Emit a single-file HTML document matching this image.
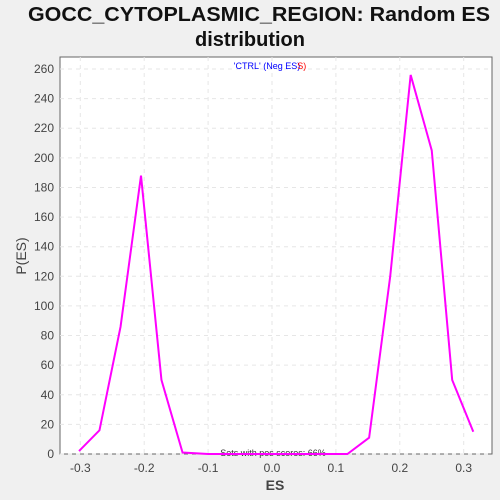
<!DOCTYPE html>
<html><head><meta charset="utf-8"><style>
body{margin:0;background:#f0f0f0;width:500px;height:500px;overflow:hidden;font-family:"Liberation Sans",sans-serif}
</style></head><body>
<svg width="500" height="500" style="display:block" xmlns="http://www.w3.org/2000/svg">
<text x="259" y="21" text-anchor="middle" font-size="20" font-weight="bold" fill="#111" textLength="462" lengthAdjust="spacingAndGlyphs">GOCC_CYTOPLASMIC_REGION: Random ES</text>
<text x="250" y="46" text-anchor="middle" font-size="20" font-weight="bold" fill="#111">distribution</text>
<rect x="60" y="57" width="432" height="397" fill="#fff" stroke="#666"/>
<g id="grid"></g><g id="ticks"></g>
<text x="270" y="69" text-anchor="middle" font-size="9"><tspan fill="#00f">'CTRL' (Neg ES)</tspan><tspan fill="#f00" dx="-3">S)</tspan></text>
<text x="273" y="456" text-anchor="middle" font-size="9" fill="#333">Sets with pos scores: 66%</text>
<polyline id="line" fill="none" stroke="#ff00ff" stroke-width="2"/>
<text x="275" y="490" text-anchor="middle" font-size="14" font-weight="bold" fill="#444">ES</text>
<text transform="translate(26,256) rotate(-90)" text-anchor="middle" font-size="14" fill="#444">P(ES)</text>
</svg>
<script>
const esValues=[-0.302,-0.27,-0.237,-0.205,-0.173,-0.14,-0.1,-0.05,0,0.05,0.118,0.152,0.185,0.217,0.25,0.282,0.315];
const densities=[2,16,86,188,50,1,0,0,0,0,0,11,120,256,205,50,15];
const xTicks=[-0.3,-0.2,-0.1,0.0,0.1,0.2,0.3];
const yTicks=[0,20,40,60,80,100,120,140,160,180,200,220,240,260];
const NS="http://www.w3.org/2000/svg";
const xs=v=>272+v*639;
const ys=v=>454-v*(385/260);
const grid=document.getElementById('grid'),ticks=document.getElementById('ticks');
function mk(t,a,p){const e=document.createElementNS(NS,t);for(const k in a)e.setAttribute(k,a[k]);p.appendChild(e);return e;}
xTicks.forEach(v=>{
 const g=mk('line',{x1:xs(v),x2:xs(v),y1:57,y2:454,stroke:'#e6e6e6','stroke-dasharray':'4,4'},grid);
 
 
 const t=mk('text',{x:xs(v),y:472,'text-anchor':'middle','font-size':'12',fill:'#444'},ticks);
 t.textContent=v.toFixed(1);
 
 
});
yTicks.forEach(v=>{
 const g=mk('line',{x1:60,x2:492,y1:ys(v),y2:ys(v),stroke:'#e6e6e6','stroke-dasharray':'4,4'},grid);
 
 
 const t=mk('text',{x:54,y:ys(v)+4,'text-anchor':'end','font-size':'12',fill:'#444'},ticks);
 t.textContent=v;
 
 
});
document.getElementById('line').setAttribute('points',esValues.map((v,i)=>xs(v)+','+ys(densities[i])).join(' '));
</script>
</body></html>
